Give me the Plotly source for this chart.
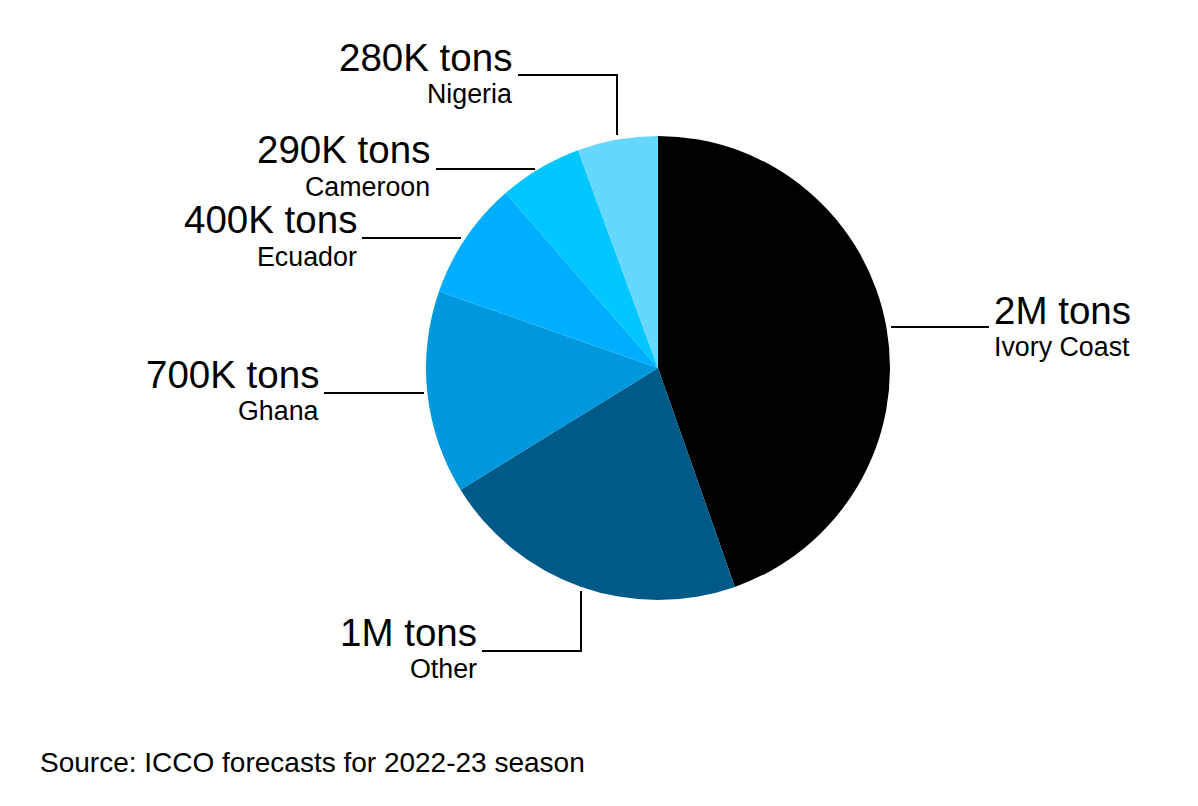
import plotly.graph_objects as go

W, H = 1198, 806

countries = ["Ivory Coast", "Other", "Ghana", "Ecuador", "Cameroon", "Nigeria"]
value_labels = ["2M tons", "1M tons", "700K tons", "400K tons", "290K tons", "280K tons"]
values = [2055, 994, 651, 380, 267, 258]
colors = ["#000000", "#005a87", "#0098dc", "#00aeff", "#00c7ff", "#66d7ff"]
source = "Source: ICCO forecasts for 2022-23 season"

FONT = "Liberation Sans"

def px(x): return x / W
def py(y): return 1 - y / H

fig = go.Figure(go.Pie(
    labels=countries, values=values, sort=False, direction="clockwise", rotation=0,
    marker=dict(colors=colors, line=dict(width=0)), textinfo="none", hoverinfo="label+value",
    domain=dict(x=[px(658 - 232), px(658 + 232)], y=[py(368 + 232), py(368 - 232)]),
    showlegend=False,
))

# (anchor, edge x, value-label centre y, country-label centre y)
placement = {
    "Ivory Coast": ("left", 992, 310, 347),
    "Other": ("right", 479, 632, 669),
    "Ghana": ("right", 321, 374, 411),
    "Ecuador": ("right", 359, 219, 257),
    "Cameroon": ("right", 432, 150, 187),
    "Nigeria": ("right", 514, 57, 94),
}
anns = []
for c, v in zip(countries, value_labels):
    a, x, y1, y2 = placement[c]
    anns.append(dict(x=px(x), y=py(y1), xref="paper", yref="paper", text=v, showarrow=False,
                     xanchor=a, yanchor="middle", font=dict(family=FONT, size=38.5, color="#000")))
    anns.append(dict(x=px(x), y=py(y2), xref="paper", yref="paper", text=c, showarrow=False,
                     xanchor=a, yanchor="middle", font=dict(family=FONT, size=26.8, color="#000")))
anns.append(dict(x=px(38), y=py(762), xref="paper", yref="paper", text=source, showarrow=False,
                 xanchor="left", yanchor="middle", font=dict(family=FONT, size=28, color="#000")))

leaders = [
    [(891, 327), (989, 327)],
    [(482, 651), (581, 651), (581, 591)],
    [(324, 393), (424, 393)],
    [(362, 238), (461, 238)],
    [(436, 169), (535, 169)],
    [(518, 75), (617, 75), (617, 135)],
]
shapes = []
for pts in leaders:
    d = "M " + " L ".join(f"{px(x)} {py(y)}" for x, y in pts)
    shapes.append(dict(type="path", path=d, xref="paper", yref="paper",
                       line=dict(color="#000", width=2), fillcolor="rgba(0,0,0,0)"))

fig.update_layout(width=W, height=H, margin=dict(l=0, r=0, t=0, b=0), paper_bgcolor="#fff",
                  annotations=anns, shapes=shapes)
fig.write_html("out.html", config={"displayModeBar": False},
               post_script="document.body.style.margin='0';document.body.style.overflow='hidden';")
